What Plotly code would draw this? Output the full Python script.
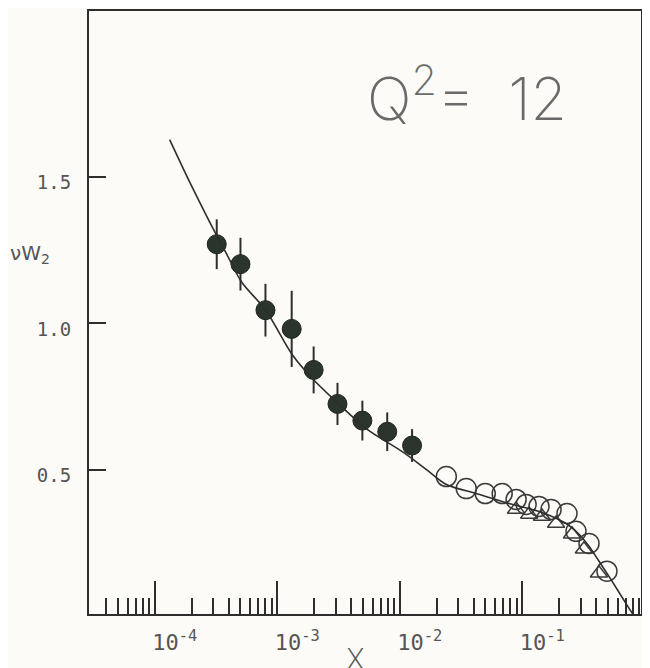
import plotly.graph_objects as go

# ---- data ----
x_filled = [3.2e-4, 5.0e-4, 8.0e-4, 1.31e-3, 1.98e-3, 3.1e-3, 4.95e-3, 7.9e-3, 1.26e-2]
y_filled = [1.269, 1.201, 1.044, 0.980, 0.840, 0.724, 0.667, 0.629, 0.582]
err_filled = [0.085, 0.09, 0.09, 0.13, 0.08, 0.072, 0.068, 0.066, 0.056]

x_open = [0.024, 0.0349, 0.0499, 0.0686, 0.0891, 0.1076, 0.137, 0.172, 0.232, 0.275, 0.351, 0.492]
y_open = [0.476, 0.435, 0.418, 0.418, 0.398, 0.381, 0.374, 0.364, 0.350, 0.289, 0.248, 0.153]

x_tri = [0.089, 0.114, 0.145, 0.189, 0.255, 0.319, 0.423]
y_tri = [0.364, 0.347, 0.340, 0.316, 0.279, 0.228, 0.146]

x_curve = [1.32e-4, 1.93e-4, 2.81e-4, 3.86e-4, 5.12e-4, 8.04e-4, 1.33e-3, 1.94e-3,
           3.04e-3, 5.35e-3, 1.05e-2, 1.65e-2, 2.40e-2, 4.21e-2, 7.82e-2, 0.1374,
           0.228, 0.291, 0.351, 0.424, 0.541, 0.743, 0.80]
y_curve = [1.626, 1.480, 1.344, 1.235, 1.139, 1.044, 0.891, 0.810,
           0.731, 0.639, 0.561, 0.500, 0.449, 0.418, 0.384, 0.357,
           0.316, 0.279, 0.238, 0.187, 0.119, 0.027, 0.007]

x_tickvals = [1e-4, 1e-3, 1e-2, 1e-1]
x_ticktext = ["10<sup>-4</sup>", "10<sup>-3</sup>", "10<sup>-2</sup>", "10<sup>-1</sup>"]
x_minor = [m * 10.0 ** k for k in range(-5, 0) for m in range(2, 10) if m * 10.0 ** k >= 4e-5]
y_tickvals = [0.5, 1.0, 1.5]
y_ticktext = ["0.5", "1.0", "1.5"]

INK = "#2e2e2e"
TXT = "#555555"
BG = "#fcfbf7"
FONT = "DejaVu Sans Mono"

fig = go.Figure()

fig.add_trace(go.Scatter(
    x=x_curve, y=y_curve, mode="lines", line=dict(color=INK, width=1.6, shape="spline", smoothing=0.8),
    yaxis="y2", hoverinfo="skip", showlegend=False))

fig.add_trace(go.Scatter(
    x=x_open, y=y_open, mode="markers",
    marker=dict(symbol="circle-open", size=20, color="#3a3a3a", line=dict(width=1.5)),
    showlegend=False))

fig.add_trace(go.Scatter(
    x=x_tri, y=y_tri, mode="markers",
    marker=dict(symbol="triangle-up-open", size=15, color="#3a3a3a", line=dict(width=1.5)),
    showlegend=False))

fig.add_trace(go.Scatter(
    x=x_filled, y=y_filled, mode="markers",
    marker=dict(symbol="circle", size=19, color="#2b352b", line=dict(width=1, color="#1e241e")),
    error_y=dict(type="data", array=err_filled, visible=True, color=INK, thickness=2, width=0),
    showlegend=False))

yrange = [0.007, 2.065]

fig.update_layout(
    width=642, height=660,
    margin=dict(l=81, r=8, t=1, b=54),
    paper_bgcolor=BG, plot_bgcolor=BG,
    xaxis=dict(
        type="log", range=[-4.538, -0.030],
        tickmode="array", tickvals=x_tickvals, ticktext=x_ticktext,
        ticks="inside", ticklen=33, tickwidth=2, tickcolor=INK,
        minor=dict(tickmode="array", tickvals=x_minor, ticks="inside", ticklen=16,
                   tickwidth=2, tickcolor=INK, showgrid=False),
        showline=True, linewidth=2, linecolor=INK, mirror=True,
        showgrid=False, zeroline=False,
        tickfont=dict(family=FONT, size=22, color=TXT),
        ticklabelshift=20, ticklabelstandoff=8,
    ),
    yaxis=dict(
        range=yrange, tickmode="array", tickvals=y_tickvals, ticktext=y_ticktext,
        ticks="inside", ticklen=17, tickwidth=2, tickcolor=INK,
        showline=True, linewidth=2, linecolor=INK, mirror=True,
        showgrid=False, zeroline=False,
        tickfont=dict(family=FONT, size=19, color=TXT),
        ticklabelstandoff=12, ticklabelshift=6,
    ),
    yaxis2=dict(
        range=yrange, overlaying="y", side="right",
        tickmode="array", tickvals=y_tickvals,
        ticks="outside", ticklen=8, tickwidth=2, tickcolor=INK,
        showticklabels=False, showline=False, showgrid=False, zeroline=False,
    ),
    annotations=[
        dict(text="Q<sup>2</sup>=&nbsp;&nbsp;12", xref="paper", yref="paper", x=0.685, y=0.862,
             xanchor="center", yanchor="middle", showarrow=False,
             font=dict(family="Inter", size=59, color="#6a6a6a", weight=200)),
        dict(text="νW<sub>2</sub>", xref="paper", yref="paper", x=-0.1465, y=0.597,
             xanchor="left", yanchor="middle", showarrow=False,
             font=dict(family="DejaVu Sans", size=20, color=TXT)),
        dict(text="X", xref="paper", yref="paper", x=0.482, y=-0.075,
             xanchor="center", yanchor="middle", showarrow=False,
             font=dict(family="DejaVu Sans", size=30, color="#555555", weight=200)),
    ],
)

fig.write_html("out.html")
